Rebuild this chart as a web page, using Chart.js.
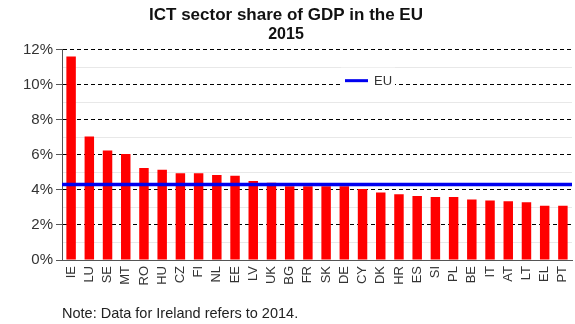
<!DOCTYPE html>
<html>
<head>
<meta charset="utf-8">
<script src="https://cdn.jsdelivr.net/npm/chart.js@4/dist/chart.umd.min.js"></script>
<style>
  html, body { margin: 0; padding: 0; background: #fff; }
  #wrap { position: relative; width: 575px; height: 324px; }
  #note {
    position: absolute; left: 62px; top: 305px;
    font: 14.5px 'Liberation Sans', Arial, sans-serif; color: #222;
    white-space: nowrap;
  }
</style>
</head>
<body>
<div id="wrap">
  <canvas id="c" width="575" height="324"></canvas>
  <div id="note">Note: Data for Ireland refers to 2014.</div>
</div>
<script>
// Member states, ranked by ICT sector share of GDP (%)
const countries = ['IE','LU','SE','MT','RO','HU','CZ','FI','NL','EE','LV','UK','BG','FR',
                   'SK','DE','CY','DK','HR','ES','SI','PL','BE','IT','AT','LT','EL','PT'];
const ictShare = [11.6, 7.05, 6.25, 6.05, 5.25, 5.15, 4.95, 4.95, 4.85, 4.8, 4.5, 4.4, 4.2, 4.2,
                  4.2, 4.2, 4.05, 3.85, 3.75, 3.65, 3.6, 3.6, 3.45, 3.4, 3.35, 3.3, 3.1, 3.1];
// EU-wide average (%)
const euAverage = 4.3;
const euLabel = 'EU';
// y axis range and labels
const yMin = 0, yMax = 12, yStep = 2;

const FONT = "'Liberation Sans', Arial, sans-serif";
const BAR_RED = '#ff0000';
const EU_BLUE = '#0000f0';

// Legend drawn on a white patch inside the plot area
const innerLegend = {
  id: 'innerLegend',
  afterDatasetsDraw(chart) {
    const ctx = chart.ctx;
    const ds = chart.data.datasets.find(d => d.label === euLabel);
    const y10 = chart.scales.y.getPixelForValue(10);
    const x0 = 341, w = 54, top = y10 - 17, h = 34;
    const cy = y10 - 4;
    ctx.save();
    ctx.fillStyle = '#fff';
    ctx.fillRect(x0, top, w, h);
    ctx.strokeStyle = ds.borderColor;
    ctx.lineWidth = 3;
    ctx.beginPath();
    ctx.moveTo(x0 + 4, cy);
    ctx.lineTo(x0 + 27, cy);
    ctx.stroke();
    ctx.fillStyle = '#333';
    ctx.font = '13px ' + FONT;
    ctx.textBaseline = 'middle';
    ctx.fillText(ds.label, x0 + 33, cy + 1);
    ctx.restore();
  }
};

new Chart(document.getElementById('c'), {
  data: {
    labels: countries,
    datasets: [
      {
        type: 'line',
        label: euLabel,
        data: [{x: 0, y: euAverage}, {x: 1, y: euAverage}],
        xAxisID: 'xl',
        yAxisID: 'y',
        borderColor: EU_BLUE,
        borderWidth: 3.5,
        pointRadius: 0,
        order: 0
      },
      {
        type: 'bar',
        label: 'ICT share',
        data: ictShare,
        xAxisID: 'x',
        yAxisID: 'y',
        backgroundColor: BAR_RED,
        grouped: false,
        barPercentage: 0.52,
        categoryPercentage: 1,
        order: 1
      }
    ]
  },
  options: {
    responsive: false,
    animation: false,
    layout: { padding: { top: 0, right: 3, bottom: 0, left: 0 } },
    plugins: {
      legend: { display: false },
      tooltip: { enabled: false },
      title: {
        display: true,
        text: 'ICT sector share of GDP in the EU',
        color: '#111',
        font: { family: FONT, size: 17, weight: 'bold' },
        padding: { top: 5, bottom: 0 }
      },
      subtitle: {
        display: true,
        text: '2015',
        color: '#111',
        font: { family: FONT, size: 16, weight: 'bold' },
        padding: { top: 0, bottom: 5 }
      }
    },
    scales: {
      x: {
        type: 'category',
        offset: true,
        grid: { display: false, drawTicks: false },
        border: { display: true, color: '#555', width: 1 },
        ticks: {
          color: '#333',
          font: { family: FONT, size: 13 },
          minRotation: 90, maxRotation: 90,
          autoSkip: false,
          padding: 6
        },
        afterFit(s) {
          s.height = 64;
          // rotated labels sit inside their category, no extra side room needed
          s.paddingLeft = 0;
          s.paddingRight = 0;
        }
      },
      xl: {
        type: 'linear',
        min: 0, max: 1,
        display: false
      },
      y: {
        type: 'linear',
        min: yMin, max: yMax,
        ticks: {
          stepSize: yStep,
          color: '#333',
          font: { family: FONT, size: 15 },
          padding: 3,
          callback: v => v + '%'
        },
        grid: {
          color: '#000',
          lineWidth: 1,
          drawTicks: true,
          tickLength: 6,
          tickColor: '#555'
        },
        border: { display: true, color: '#555', width: 1, dash: [4, 3] },
        afterFit(s) { s.width = 62; }
      },
      yMinor: {
        type: 'linear',
        position: 'left',
        min: yMin, max: yMax,
        ticks: { display: false, stepSize: 1 },
        grid: {
          color: c => (c.tick && c.tick.value % 2 === 1) ? '#e8e8e8' : 'rgba(0,0,0,0)',
          lineWidth: 1,
          drawTicks: false
        },
        border: { display: false },
        afterFit(s) { s.width = 0; }
      }
    }
  },
  plugins: [innerLegend]
});
</script>
</body>
</html>
